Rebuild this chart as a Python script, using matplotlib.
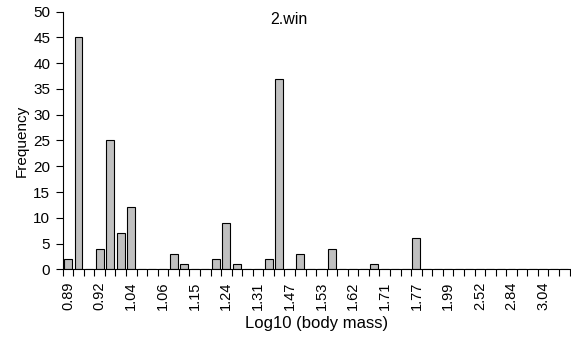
import matplotlib
matplotlib.use("Agg")
import matplotlib.pyplot as plt
import numpy as np

plt.rcParams['font.family'] = ['Liberation Sans', 'DejaVu Sans']

# frequency per body-mass class (48 classes, only every third labelled)
counts = [2, 45, 0, 4, 25, 7, 12, 0, 0, 0, 3, 1,
          0, 0, 2, 9, 1, 0, 0, 2, 37, 0, 3, 0,
          0, 4, 0, 0, 0, 1, 0, 0, 0, 6, 0, 0,
          0, 0, 0, 0, 0, 0, 0, 0, 0, 0, 0, 0]
tick_labels = ['0.89', '0.92', '1.04', '1.06', '1.15', '1.24', '1.31', '1.47',
               '1.53', '1.62', '1.71', '1.77', '1.99', '2.52', '2.84', '3.04']
panel = '2.win'

fig = plt.figure(figsize=(5.71, 3.38), dpi=100)
ax = fig.add_axes([0.1098, 0.2033, 0.8877, 0.7621])

x = np.arange(len(counts))
ax.bar(x, counts, width=0.75, color='#c0c0c0', edgecolor='black', linewidth=0.8)

ax.set_xlim(-0.5, len(counts) - 0.5)
ax.set_ylim(0, 50)
ax.set_yticks(np.arange(0, 51, 5))

# tick marks between the classes, labels on every third class
ax.set_xticks(np.arange(-0.5, len(counts), 1.0))
ax.set_xticklabels([])
ax.set_xticks(np.arange(0, len(counts), 3), minor=True)
ax.set_xticklabels(tick_labels, minor=True, rotation=90, fontsize=10.5,
                   family=['Liberation Sans Narrow', 'Liberation Sans'])
ax.tick_params(axis='x', which='major', direction='out', length=5, width=0.8)
ax.tick_params(axis='x', which='minor', length=0, pad=9)
ax.tick_params(axis='y', direction='out', length=5, width=0.8, labelsize=11, pad=4)

for s in ['top', 'right']:
    ax.spines[s].set_visible(False)
for s in ['left', 'bottom']:
    ax.spines[s].set_linewidth(0.8)

ax.set_xlabel('Log10 (body mass)', fontsize=12, labelpad=4)
ax.set_ylabel('Frequency', fontsize=11, labelpad=3)
ax.text(0.446, 0.97, panel, transform=ax.transAxes, ha='center', va='center', fontsize=11.5)

fig.savefig('out.png', dpi=100)
